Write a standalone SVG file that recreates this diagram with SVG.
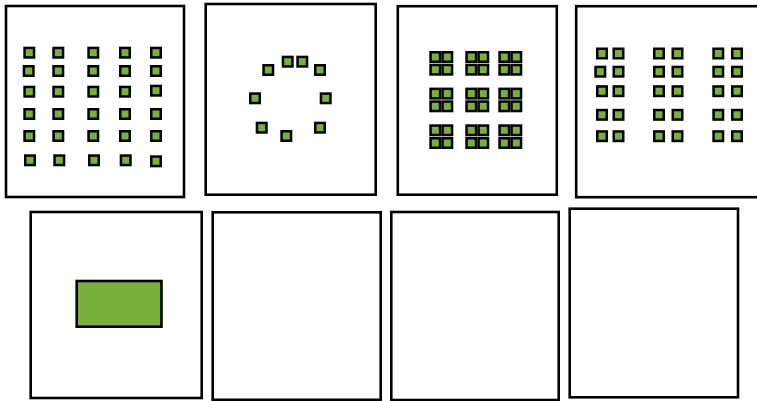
<svg xmlns="http://www.w3.org/2000/svg" xmlns:xlink="http://www.w3.org/1999/xlink" width="757" height="401" viewBox="0 0 757 401">
<style>
.panel{fill:#ffffff;stroke:#000000;stroke-width:2.6}
.sq{fill:#7aaf3c;stroke:#000000;stroke-width:2.5}
.big{fill:#7aaf3c;stroke:#000000;stroke-width:2.6}
</style>
<defs>
<rect id="s" class="sq" x="-4.75" y="-4.75" width="9.5" height="9.5"/>
</defs>
<rect width="757" height="401" fill="#ffffff"/>
<g id="panel1">
<rect class="panel" x="6" y="6" width="178" height="191"/>
<use href="#s" x="29.3" y="52.7"/><use href="#s" x="58.3" y="52.7"/><use href="#s" x="93.3" y="52.7"/><use href="#s" x="125" y="52.7"/><use href="#s" x="156" y="52.7"/>
<use href="#s" x="28.7" y="71"/><use href="#s" x="58.3" y="71"/><use href="#s" x="93.3" y="71"/><use href="#s" x="125" y="71"/><use href="#s" x="156" y="71"/>
<use href="#s" x="29.3" y="91.7"/><use href="#s" x="58.3" y="91.7"/><use href="#s" x="93.3" y="91.7"/><use href="#s" x="125" y="91.7"/><use href="#s" x="156" y="90.7"/>
<use href="#s" x="29.3" y="114"/><use href="#s" x="58.3" y="114"/><use href="#s" x="93.3" y="114"/><use href="#s" x="125" y="114"/><use href="#s" x="156" y="114"/>
<use href="#s" x="29.3" y="136"/><use href="#s" x="58.3" y="136"/><use href="#s" x="93.3" y="136"/><use href="#s" x="125" y="136"/><use href="#s" x="156" y="136"/>
<use href="#s" x="30" y="160.3"/><use href="#s" x="59.3" y="160.3"/><use href="#s" x="94" y="160.3"/><use href="#s" x="125.7" y="160.3"/><use href="#s" x="156" y="161.3"/>
</g>
<g id="panel2">
<rect class="panel" x="205.7" y="4" width="170" height="190.7"/>
<use href="#s" x="268.3" y="70"/><use href="#s" x="287.7" y="61.7"/><use href="#s" x="302.3" y="61.7"/><use href="#s" x="320" y="70"/>
<use href="#s" x="255" y="98.3"/><use href="#s" x="325.7" y="98.3"/>
<use href="#s" x="261.7" y="127.7"/><use href="#s" x="286.3" y="136"/><use href="#s" x="320" y="127.7"/>
</g>
<g id="panel3">
<rect class="panel" x="397.8" y="6.2" width="159" height="188.5"/>
<use href="#s" x="435.3" y="57"/><use href="#s" x="447.3" y="57"/><use href="#s" x="435.3" y="69.7"/><use href="#s" x="447.3" y="69.7"/>
<use href="#s" x="471.3" y="57"/><use href="#s" x="483.3" y="57"/><use href="#s" x="471.3" y="69.7"/><use href="#s" x="483.3" y="69.7"/>
<use href="#s" x="504.3" y="57"/><use href="#s" x="516.3" y="57"/><use href="#s" x="504.3" y="69.7"/><use href="#s" x="516.3" y="69.7"/>
<use href="#s" x="435.3" y="93.6"/><use href="#s" x="447.3" y="93.6"/><use href="#s" x="435.3" y="106.3"/><use href="#s" x="447.3" y="106.3"/>
<use href="#s" x="471.3" y="93.6"/><use href="#s" x="483.3" y="93.6"/><use href="#s" x="471.3" y="106.3"/><use href="#s" x="483.3" y="106.3"/>
<use href="#s" x="504.3" y="93.6"/><use href="#s" x="516.3" y="93.6"/><use href="#s" x="504.3" y="106.3"/><use href="#s" x="516.3" y="106.3"/>
<use href="#s" x="435.3" y="130.3"/><use href="#s" x="447.3" y="130.3"/><use href="#s" x="435.3" y="143"/><use href="#s" x="447.3" y="143"/>
<use href="#s" x="471.3" y="130.3"/><use href="#s" x="483.3" y="130.3"/><use href="#s" x="471.3" y="143"/><use href="#s" x="483.3" y="143"/>
<use href="#s" x="504.3" y="130.3"/><use href="#s" x="516.3" y="130.3"/><use href="#s" x="504.3" y="143"/><use href="#s" x="516.3" y="143"/>
</g>
<g id="panel4">
<rect class="panel" x="576.2" y="6.2" width="200" height="191"/>
<use href="#s" x="602" y="53.5"/><use href="#s" x="618.5" y="53.5"/><use href="#s" x="659" y="53.5"/><use href="#s" x="677.5" y="53.5"/><use href="#s" x="718.3" y="53.5"/><use href="#s" x="737" y="53.5"/>
<use href="#s" x="600.3" y="71.7"/><use href="#s" x="618.5" y="71.7"/><use href="#s" x="659" y="71.7"/><use href="#s" x="677.5" y="71.7"/><use href="#s" x="718.3" y="71.7"/><use href="#s" x="737" y="71.7"/>
<use href="#s" x="602" y="91.2"/><use href="#s" x="618.5" y="91.2"/><use href="#s" x="659" y="91.2"/><use href="#s" x="677.5" y="91.2"/><use href="#s" x="718.3" y="91.2"/><use href="#s" x="737" y="91.2"/>
<use href="#s" x="602" y="114.8"/><use href="#s" x="618.5" y="114.8"/><use href="#s" x="659" y="114.8"/><use href="#s" x="677.5" y="114.8"/><use href="#s" x="718.3" y="114.8"/><use href="#s" x="737" y="114.8"/>
<use href="#s" x="602" y="136.2"/><use href="#s" x="618.5" y="136.2"/><use href="#s" x="659" y="136.2"/><use href="#s" x="677.5" y="136.2"/><use href="#s" x="718.3" y="136.2"/><use href="#s" x="737" y="136.2"/>
</g>
<g id="panel5">
<rect class="panel" x="30.7" y="212" width="171" height="186"/>
<rect class="big" x="76.7" y="281" width="84.8" height="45.7"/>
</g>
<g id="panel6">
<rect class="panel" x="212.7" y="212.3" width="168" height="187.5"/>
</g>
<g id="panel7">
<rect class="panel" x="391.3" y="212" width="167.4" height="188"/>
</g>
<g id="panel8">
<rect class="panel" x="569.7" y="208.7" width="168.3" height="188.6"/>
</g>
</svg>
